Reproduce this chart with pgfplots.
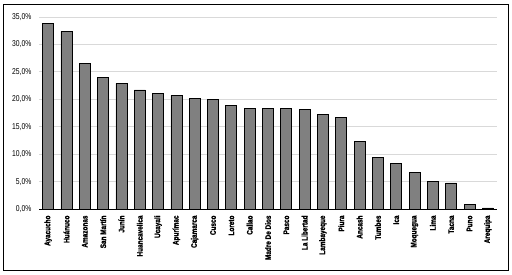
\documentclass[border=0pt]{standalone}
\usepackage{fontspec}
\setmainfont{Liberation Sans}[FakeStretch=0.8, BoldFeatures={FakeBold=1.2}]
\usepackage{pgfplots}
\pgfplotsset{compat=1.18}
\definecolor{barfill}{HTML}{808080}
\definecolor{gridc}{HTML}{D9D9D9}
\begin{document}
\begin{tikzpicture}[x=1pt,y=1pt]
\begin{axis}[
  name=ax,
  at={(0,0)}, anchor=south west,
  scale only axis,
  width=458pt, height=192pt,
  ymin=0, ymax=35,
  xmin=-0.5, xmax=24.5,
  ybar, bar width=11pt,
  axis x line=bottom, axis y line=left,
  x axis line style={-, black, line width=0.9pt},
  y axis line style={draw=none},
  major tick length=0pt,
  ytick={0,5,...,35},
  ymajorgrids, grid style={gridc, line width=0.8pt},
  /pgf/number format/assume math mode=true,
  yticklabel={\pgfmathprintnumber[fixed,fixed zerofill,precision=1,use comma]{\tick}\%},
  yticklabel style={font=\fontsize{8.5}{9}\selectfont, xshift=-4pt},
  xtick=data,
  xticklabels={Ayacucho,Huánuco,Amazonas,San Martín,Junín,Huancavelica,Ucayali,Apurímac,Cajamarca,Cusco,Loreto,Callao,Madre De Dios,Pasco,La Libertad,Lambayeque,Piura,Ancash,Tumbes,Ica,Moquegua,Lima,Tacna,Puno,Arequipa},
  xticklabel style={rotate=90, anchor=east, font=\fontsize{8}{9}\selectfont\bfseries, xshift=-3pt},
]
\addplot[fill=barfill, draw=black, line width=0.8pt] coordinates {
(0,33.9) (1,32.4) (2,26.6) (3,24.0) (4,22.9) (5,21.7) (6,21.1) (7,20.7) (8,20.1) (9,19.9)
(10,18.9) (11,18.4) (12,18.4) (13,18.4) (14,18.2) (15,17.3) (16,16.7) (17,12.35) (18,9.4) (19,8.3)
(20,6.7) (21,5.05) (22,4.75) (23,0.9) (24,0.2)
};
\end{axis}
\draw[line width=1pt] ([xshift=-35pt,yshift=-61pt]ax.south west) rectangle ([xshift=11pt,yshift=13pt]ax.north east);
\path[use as bounding box] ([xshift=-39pt,yshift=-65pt]ax.south west) rectangle ([xshift=15pt,yshift=17pt]ax.north east);
\end{tikzpicture}
\end{document}
